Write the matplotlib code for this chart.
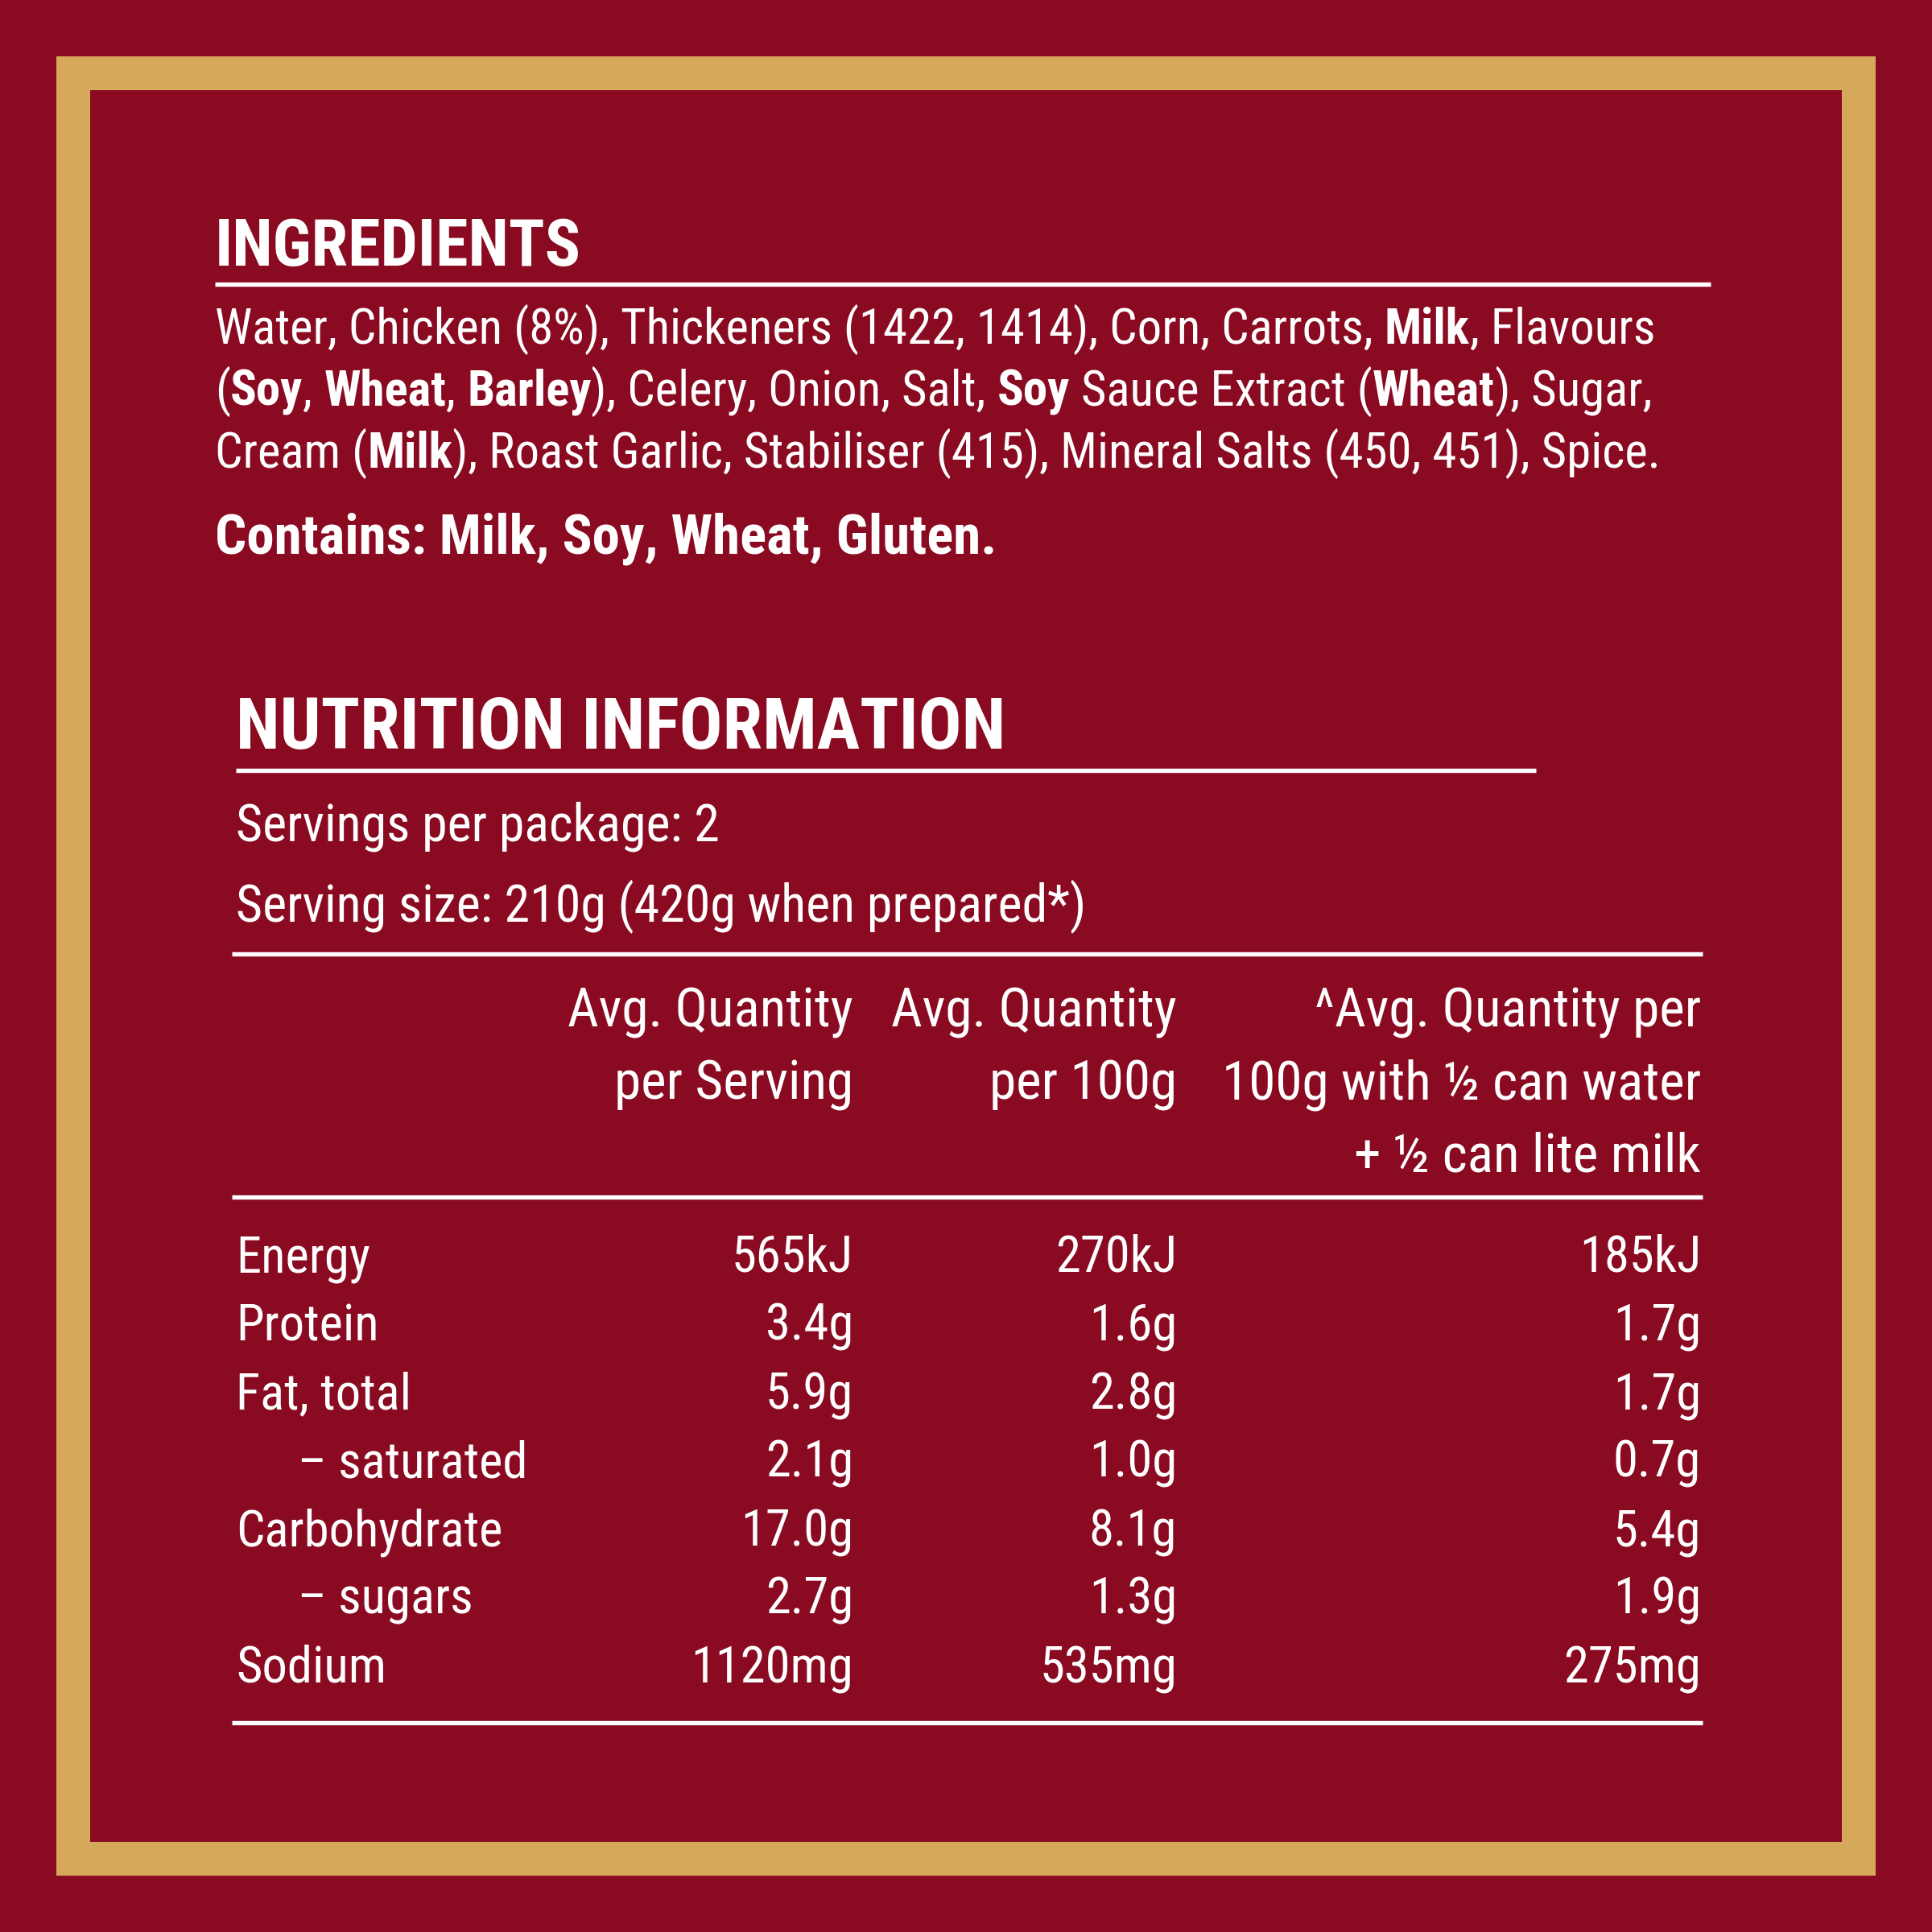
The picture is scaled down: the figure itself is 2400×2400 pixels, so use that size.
import matplotlib.pyplot as plt
from matplotlib.patches import Rectangle

BG = "#8A0A22"
GOLD = "#D6A85A"
# condensed family if present, otherwise the narrowest installed sans
FONT = ["Liberation Sans Narrow", "DejaVu Sans Condensed", "Roboto Condensed", "Liberation Sans", "DejaVu Sans"]

ingredient_lines = [
    [("Water, Chicken (8%), Thickeners (1422, 1414), Corn, Carrots, ", False), ("Milk", True), (", Flavours", False)],
    [("(", False), ("Soy", True), (", ", False), ("Wheat", True), (", ", False), ("Barley", True),
     ("), Celery, Onion, Salt, ", False), ("Soy", True), (" Sauce Extract (", False), ("Wheat", True), ("), Sugar,", False)],
    [("Cream (", False), ("Milk", True), ("), Roast Garlic, Stabiliser (415), Mineral Salts (450, 451), Spice.", False)],
]
contains = "Contains: Milk, Soy, Wheat, Gluten."
servings = ["Servings per package: 2", "Serving size: 210g (420g when prepared*)"]
col_headers = [
    ["Avg. Quantity", "per Serving"],
    ["Avg. Quantity", "per 100g"],
    ["^Avg. Quantity per", "100g with ½ can water", "+ ½ can lite milk"],
]
nutrients = ["Energy", "Protein", "Fat, total", "– saturated", "Carbohydrate", "– sugars", "Sodium"]
indented = [False, False, False, True, False, True, False]
per_serving = ["565kJ", "3.4g", "5.9g", "2.1g", "17.0g", "2.7g", "1120mg"]
per_100g = ["270kJ", "1.6g", "2.8g", "1.0g", "8.1g", "1.3g", "535mg"]
per_100g_prepared = ["185kJ", "1.7g", "1.7g", "0.7g", "5.4g", "1.9g", "275mg"]

fig = plt.figure(figsize=(8, 8), dpi=300, facecolor=BG)
ax = fig.add_axes([0, 0, 1, 1])
ax.set_xlim(0, 2400)
ax.set_ylim(2400, 0)
ax.axis("off")
ax.add_patch(Rectangle((70, 70), 2260, 2260, facecolor=GOLD, edgecolor="none"))
ax.add_patch(Rectangle((112, 112), 2176, 2176, facecolor=BG, edgecolor="none"))

renderer = fig.canvas.get_renderer()
px_per_data = fig.bbox.width / 2400


def txt(x, y, s, size, bold=False, ha="left"):
    return ax.text(x, y, s, color="white", fontsize=size, family=FONT,
                   fontweight="bold" if bold else "normal", ha=ha, va="baseline")


def width(t):
    return t.get_window_extent(renderer).width / px_per_data


def fit_size(segs, target, base=20):
    # font size at which the pieces span the target width (capped)
    total = 0
    for s, b in segs:
        t = txt(0, -500, s, base, bold=b)
        total += width(t)
        t.remove()
    return base * target / total


def rule(y, x0, x1, lw=1.3):
    ax.plot([x0, x1], [y, y], color="white", lw=lw, solid_capstyle="butt")


def seg_line(x, y, segs, size):
    for s, b in segs:
        t = txt(x, y, s, size, bold=b)
        x += width(t)


s = min(fit_size([("INGREDIENTS", True)], 455), 26)
txt(267, 330, "INGREDIENTS", s, bold=True)
rule(353, 267, 2125)
ing_targets = [1793, 1883, 1798]
ing_size = min(min(fit_size(l, w) for l, w in zip(ingredient_lines, ing_targets)), 21)
for i, segs in enumerate(ingredient_lines):
    seg_line(267, 427 + i * 77, segs, ing_size)
txt(267, 688, contains, min(fit_size([(contains, True)], 971), 21), bold=True)

s = min(fit_size([("NUTRITION INFORMATION", True)], 957), 27)
txt(293, 930, "NUTRITION INFORMATION", s, bold=True)
rule(957, 293, 1908)
sv = min(fit_size([(servings[1], False)], 1057), 23)
txt(293, 1045, servings[0], sv)
txt(293, 1145, servings[1], sv)
rule(1185, 288, 2115)

col_x = [1060, 1462, 2113]
hs = min(fit_size([("100g with ½ can water", False)], 613), fit_size([("Avg. Quantity", False)], 355), 23)
for cx, lines in zip(col_x, col_headers):
    for j, h in enumerate(lines):
        txt(cx, 1275 + j * 90, h, hs, ha="right")
rule(1487, 288, 2115)

bs = min(fit_size([("Carbohydrate", False)], 362), fit_size([("1120mg", False)], 202),
         fit_size([("– saturated", False)], 305), 24)
for i, name in enumerate(nutrients):
    y = 1580 + i * 85
    txt(370 if indented[i] else 293, y, name, bs)
    for cx, vals in zip(col_x, [per_serving, per_100g, per_100g_prepared]):
        txt(cx, y, vals[i], bs, ha="right")
rule(2140, 288, 2115)

fig.savefig("out.png", dpi=300, facecolor=BG)
